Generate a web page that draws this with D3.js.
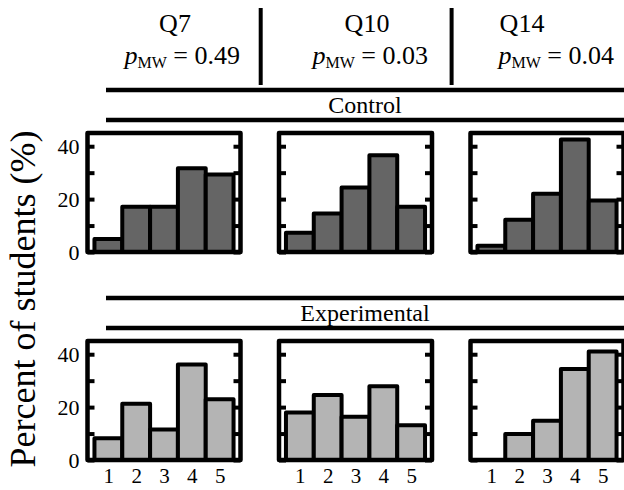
<!DOCTYPE html>
<meta charset="utf-8">
<style>
    body { margin: 0; background: #fff; }
    .tick line { stroke: #000; stroke-width: 4px; }
</style>

<body>
    <svg width="624" height="490"></svg>
    <script src="https://d3js.org/d3.v7.min.js"></script>
    <script>
        // values (percent of students per response)
        const questions = ["Q7", "Q10", "Q14"];
        const pValues = ["0.49", "0.03", "0.04"];
        const groups = ["Control", "Experimental"];
        const responses = [1, 2, 3, 4, 5];
        const controlPct = [
            [4.9, 17.1, 17.1, 31.7, 29.3],
            [7.3, 14.6, 24.4, 36.6, 17.1],
            [2.4, 12.2, 22.0, 42.5, 19.5]
        ];
        const experimentalPct = [
            [8.2, 21.3, 11.5, 36.1, 23.0],
            [18.0, 24.6, 16.4, 27.9, 13.1],
            [0, 9.8, 14.8, 34.4, 41.0]
        ];
        const yTicks = [0, 10, 20, 30, 40];
        const yLabels = [0, 20, 40];

        const serif = "'Liberation Serif', 'Times New Roman', serif";

        const svg = d3.select("svg");

        const panelW = 153,
            panelH = 119,
            panelLeft = [87.5, 279, 470.5],
            groupTop = [133, 341],
            groupColor = ["#656565", "#b4b4b4"],
            groupData = [controlPct, experimentalPct];

        const x = d3.scaleLinear().domain([0.25, 5.75]).range([0, panelW]);
        const y = d3.scaleLinear().domain([0, 45]).range([panelH, 0]);

        // header: question names and Mann-Whitney p values
        const qCenter = [175, 367, 522],
            pEnd = [240, 428, 614];
        questions.forEach((q, i) => {
            svg.append("text")
                .attr("x", qCenter[i]).attr("y", 32)
                .attr("text-anchor", "middle")
                .style("font-family", serif)
                .style("font-size", "26px")
                .text(q);
            const t = svg.append("text")
                .attr("x", pEnd[i]).attr("y", 64)
                .attr("text-anchor", "end")
                .style("font-family", serif)
                .style("font-size", "26px");
            t.append("tspan").style("font-style", "italic").text("p");
            t.append("tspan").attr("dy", 4).style("font-size", "16px").text("MW");
            t.append("tspan").attr("dy", -4).text(" = " + pValues[i]);
        });

        // dividers between the questions
        [260.7, 451.6].forEach(d => {
            svg.append("line")
                .attr("x1", d).attr("x2", d)
                .attr("y1", 8).attr("y2", 85)
                .attr("stroke", "#000").attr("stroke-width", 4);
        });

        // group banners
        groups.forEach((grp, gi) => {
            const top = groupTop[gi];
            [top - 43, top - 13].forEach(ly => {
                svg.append("line")
                    .attr("x1", 106).attr("x2", 624)
                    .attr("y1", ly).attr("y2", ly)
                    .attr("stroke", "#000").attr("stroke-width", 4.5);
            });
            svg.append("text")
                .attr("x", 365).attr("y", top - 20)
                .attr("text-anchor", "middle")
                .style("font-family", serif)
                .style("font-size", "24px")
                .text(grp);

            questions.forEach((q, qi) => {
                const g = svg.append("g")
                    .attr("transform", "translate(" + panelLeft[qi] + "," + top + ")");

                g.selectAll("rect.bar")
                    .data(groupData[gi][qi])
                    .enter().append("rect")
                    .attr("class", "bar")
                    .attr("x", (d, i) => x(responses[i] - 0.5))
                    .attr("width", (d, i) => x(responses[i] + 0.5) - x(responses[i] - 0.5))
                    .attr("y", d => y(d))
                    .attr("height", d => y(0) - y(d))
                    .attr("fill", groupColor[gi])
                    .attr("stroke", "#000")
                    .attr("stroke-width", 4)
                    .attr("stroke-linejoin", "round");

                // inward ticks on both sides
                const left = g.append("g")
                    .call(d3.axisLeft(y).tickValues(yTicks).tickSize(-7).tickPadding(8)
                        .tickFormat(d => (qi === 0 && yLabels.includes(d)) ? String(d) : ""));
                left.select(".domain").remove();
                left.selectAll("text")
                    .style("font-family", serif)
                    .style("font-size", "22px");

                const right = g.append("g")
                    .attr("transform", "translate(" + panelW + ",0)")
                    .call(d3.axisRight(y).tickValues(yTicks).tickSize(-7).tickFormat(""));
                right.select(".domain").remove();

                if (gi === 1) {
                    const bottom = g.append("g")
                        .attr("transform", "translate(0," + panelH + ")")
                        .call(d3.axisBottom(x).tickValues(responses).tickSize(0).tickPadding(8)
                            .tickFormat(d3.format("d")));
                    bottom.select(".domain").remove();
                    bottom.selectAll("text")
                        .style("font-family", serif)
                        .style("font-size", "21px");
                }

                g.append("rect")
                    .attr("width", panelW).attr("height", panelH)
                    .attr("fill", "none")
                    .attr("stroke", "#000")
                    .attr("stroke-width", 4.5)
                    .attr("stroke-linejoin", "round");
            });
        });

        svg.append("text")
            .attr("transform", "translate(35,299) rotate(-90)")
            .attr("text-anchor", "middle")
            .style("font-family", serif)
            .style("font-size", "36px")
            .text("Percent of students (%)");
    </script>
</body>
